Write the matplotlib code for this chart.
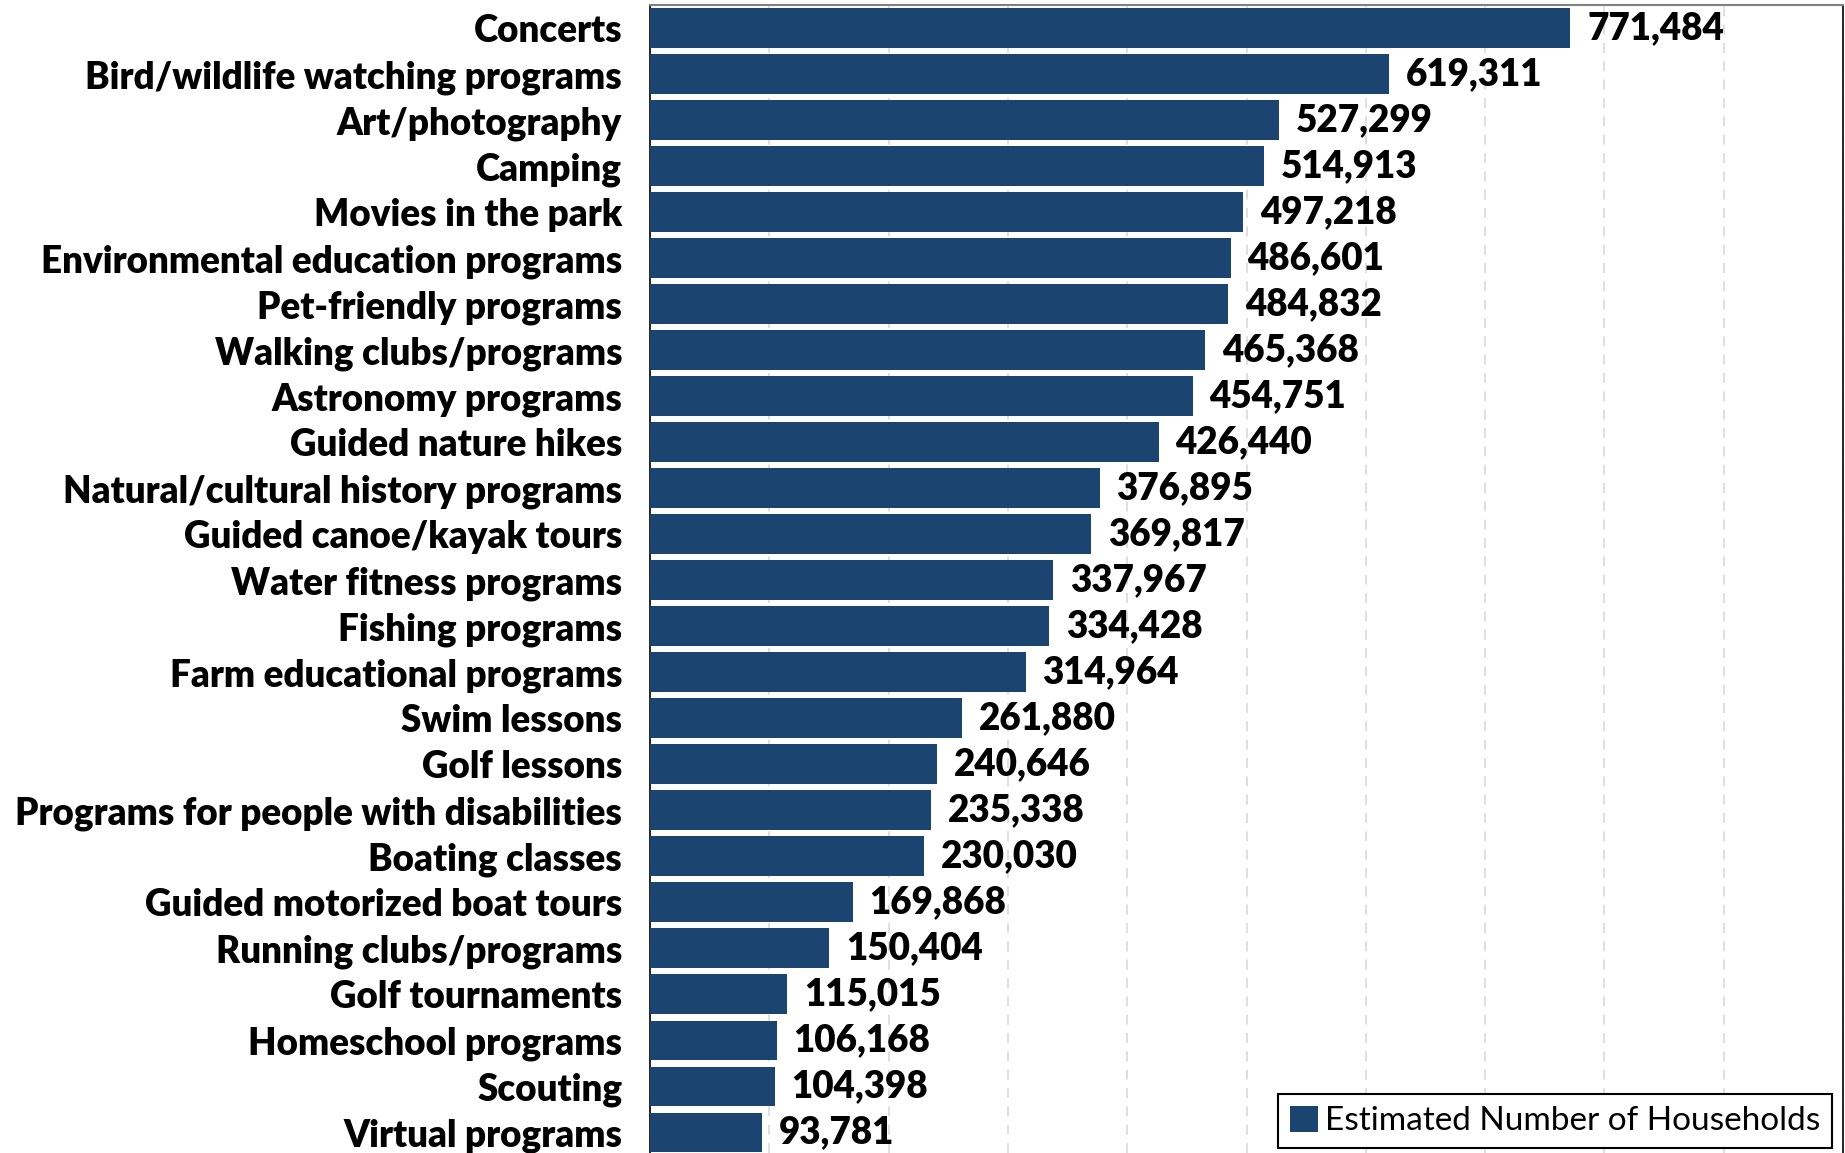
import matplotlib
matplotlib.use("Agg")
import matplotlib.pyplot as plt
from matplotlib.ticker import MultipleLocator

categories = [
    "Concerts", "Bird/wildlife watching programs", "Art/photography", "Camping",
    "Movies in the park", "Environmental education programs", "Pet-friendly programs",
    "Walking clubs/programs", "Astronomy programs", "Guided nature hikes",
    "Natural/cultural history programs", "Guided canoe/kayak tours",
    "Water fitness programs", "Fishing programs", "Farm educational programs",
    "Swim lessons", "Golf lessons", "Programs for people with disabilities",
    "Boating classes", "Guided motorized boat tours", "Running clubs/programs",
    "Golf tournaments", "Homeschool programs", "Scouting", "Virtual programs",
]
households = [
    771484, 619311, 527299, 514913, 497218, 486601, 484832, 465368, 454751, 426440,
    376895, 369817, 337967, 334428, 314964, 261880, 240646, 235338, 230030, 169868,
    150404, 115015, 106168, 104398, 93781,
]
series_name = "Estimated Number of Households"

plt.rcParams['font.family'] = ['Lato', 'DejaVu Sans']

fig = plt.figure(figsize=(18.45, 11.53), dpi=100)
ax = fig.add_axes([650/1845, 0.0, 1193/1845, 1 - 4.7/1153])

bar_color = "#1B4470"
y = list(range(len(categories)))
ax.barh(y, households, height=0.86, color=bar_color, label=series_name, zorder=3)

ax.set_xlim(0, 1000000)
ax.set_ylim(24.45, -0.51)
ax.set_yticks(y)
ax.set_yticklabels(categories, fontsize=26.5, fontweight='heavy', color='black')
ax.tick_params(axis='y', length=0, pad=20)
ax.tick_params(axis='x', length=0, labelbottom=False)
ax.xaxis.set_major_locator(MultipleLocator(100000))
ax.grid(axis='x', color='#D9D9D9', linestyle=(0, (6, 5)), linewidth=1.2, zorder=0)
ax.grid(axis='y', visible=False)

for yi, v in zip(y, households):
    ax.text(v + 14000, yi, f"{v:,}", va='center', ha='left', fontsize=26.5,
            fontweight='heavy', color='black', zorder=4)

ax.spines['top'].set_color('#808080')
ax.spines['top'].set_linewidth(1.5)
ax.spines['right'].set_color('black')
ax.spines['right'].set_linewidth(1.2)
ax.spines['left'].set_color('black')
ax.spines['left'].set_linewidth(1.2)
ax.spines['bottom'].set_visible(False)

leg = ax.legend(loc='lower right', bbox_to_anchor=(1832/1845, 5/1153), bbox_transform=fig.transFigure,
                fontsize=24, frameon=True, fancybox=False, framealpha=1,
                edgecolor='black', handlelength=0.85, handleheight=0.85, handletextpad=0.2,
                borderpad=0.35, borderaxespad=0)
leg.get_frame().set_linewidth(1.5)

fig.savefig("out.png", dpi=100)
